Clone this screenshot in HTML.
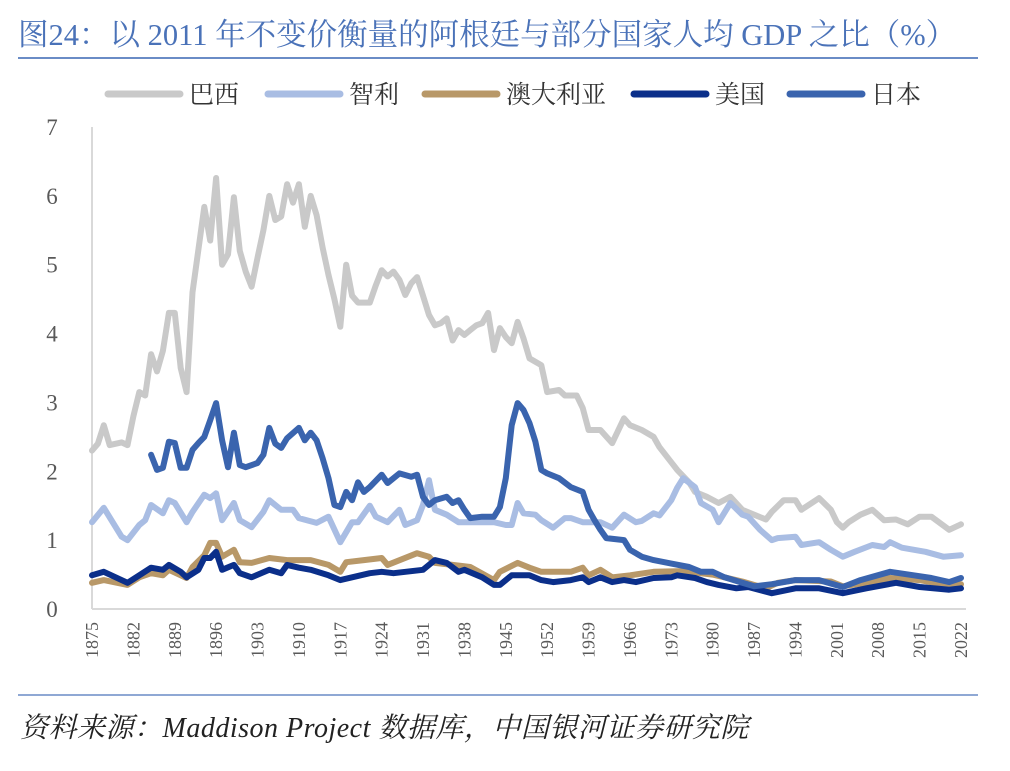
<!DOCTYPE html>
<html><head><meta charset="utf-8"><style>
body{margin:0;background:#fff;width:1010px;height:771px;overflow:hidden;font-family:"Liberation Serif","Noto Serif CJK SC",serif}
#title{position:absolute;left:18px;top:10px;font-size:30.5px;color:#4a72b8;white-space:nowrap}
#src{position:absolute;left:20px;top:706px;font-size:28px;font-style:italic;color:#222;white-space:nowrap;letter-spacing:0.5px}
</style></head><body>
<div id="title">图24：以 2011 年不变价衡量的阿根廷与部分国家人均 GDP 之比（%）</div>
<svg id="chart" width="1010" height="771" style="position:absolute;left:0;top:0"></svg>
<div id="src">资料来源：Maddison Project 数据库，中国银河证券研究院</div>
<script>
const brazilYears=[1875,1876,1877,1878,1880,1881,1882,1883,1884,1885,1886,1887,1888,1889,1890,1891,1892,1894,1895,1896,1897,1898,1899,1900,1901,1902,1903,1904,1905,1906,1907,1908,1909,1910,1911,1912,1913,1914,1915,1916,1917,1918,1919,1920,1921,1922,1923,1924,1925,1926,1927,1928,1929,1930,1931,1932,1933,1934,1935,1936,1937,1938,1939,1940,1941,1942,1943,1944,1945,1946,1947,1948,1949,1951,1952,1954,1955,1957,1958,1959,1961,1963,1965,1966,1968,1970,1971,1973,1974,1976,1977,1979,1981,1983,1985,1987,1989,1990,1992,1994,1995,1998,2000,2001,2002,2003,2005,2007,2009,2011,2013,2015,2017,2020,2022];
const brazilValues=[2.3,2.4,2.67,2.38,2.42,2.38,2.8,3.15,3.1,3.7,3.45,3.75,4.3,4.3,3.5,3.15,4.6,5.84,5.35,6.26,5.0,5.15,5.98,5.2,4.9,4.68,5.1,5.5,6.0,5.65,5.7,6.17,5.9,6.17,5.55,6.0,5.72,5.25,4.85,4.5,4.1,5.0,4.55,4.45,4.45,4.45,4.7,4.92,4.83,4.9,4.78,4.56,4.73,4.82,4.55,4.27,4.12,4.15,4.22,3.9,4.05,3.98,4.05,4.12,4.15,4.3,3.76,4.08,3.95,3.86,4.17,3.93,3.64,3.54,3.15,3.18,3.1,3.1,2.92,2.6,2.6,2.41,2.77,2.67,2.6,2.5,2.35,2.13,2.02,1.84,1.7,1.63,1.54,1.63,1.44,1.37,1.3,1.41,1.58,1.58,1.44,1.61,1.44,1.26,1.18,1.26,1.37,1.44,1.29,1.3,1.23,1.34,1.34,1.15,1.23];
const chileYears=[1875,1877,1880,1881,1883,1884,1885,1887,1888,1889,1891,1892,1894,1895,1896,1897,1899,1900,1902,1904,1905,1907,1909,1910,1913,1915,1917,1919,1920,1922,1923,1925,1927,1928,1930,1931,1932,1933,1935,1937,1940,1943,1945,1946,1947,1948,1950,1951,1953,1955,1956,1958,1961,1963,1965,1967,1968,1970,1971,1973,1974,1975,1977,1978,1980,1981,1983,1985,1986,1988,1990,1991,1994,1995,1998,2000,2002,2004,2007,2009,2010,2012,2016,2019,2022];
const chileValues=[1.26,1.47,1.05,1.0,1.22,1.29,1.51,1.39,1.58,1.54,1.26,1.41,1.66,1.61,1.68,1.29,1.54,1.29,1.19,1.41,1.58,1.44,1.44,1.32,1.25,1.34,0.97,1.26,1.26,1.5,1.34,1.26,1.44,1.22,1.29,1.51,1.87,1.44,1.37,1.26,1.26,1.26,1.22,1.22,1.54,1.39,1.37,1.29,1.18,1.32,1.32,1.26,1.26,1.18,1.37,1.26,1.28,1.39,1.36,1.58,1.76,1.9,1.77,1.54,1.44,1.26,1.54,1.37,1.34,1.15,1.0,1.03,1.05,0.93,0.97,0.86,0.76,0.83,0.93,0.9,0.97,0.89,0.83,0.76,0.78];
const ausYears=[1875,1877,1881,1883,1885,1887,1888,1891,1892,1894,1895,1896,1897,1899,1900,1902,1905,1908,1912,1915,1917,1918,1921,1924,1925,1930,1932,1933,1936,1939,1943,1944,1947,1949,1951,1956,1958,1959,1961,1963,1966,1970,1975,1980,1985,1989,1991,1994,2000,2002,2006,2010,2015,2020,2022];
const ausValues=[0.38,0.42,0.35,0.46,0.52,0.49,0.57,0.45,0.61,0.78,0.96,0.96,0.76,0.86,0.68,0.67,0.74,0.71,0.71,0.64,0.54,0.68,0.71,0.74,0.64,0.81,0.76,0.67,0.64,0.61,0.42,0.54,0.67,0.6,0.54,0.54,0.6,0.49,0.57,0.46,0.49,0.54,0.55,0.5,0.4,0.3,0.38,0.42,0.4,0.33,0.38,0.45,0.42,0.34,0.36];
const usaYears=[1875,1877,1881,1883,1885,1887,1888,1890,1891,1893,1894,1895,1896,1897,1899,1900,1902,1905,1907,1908,1910,1912,1915,1917,1919,1922,1924,1926,1931,1933,1935,1937,1938,1941,1943,1944,1946,1949,1951,1953,1956,1958,1959,1961,1963,1965,1967,1970,1973,1974,1977,1979,1981,1984,1986,1990,1994,1998,2002,2006,2011,2015,2020,2022];
const usaValues=[0.49,0.54,0.38,0.49,0.6,0.57,0.64,0.54,0.46,0.57,0.74,0.74,0.83,0.57,0.64,0.52,0.46,0.57,0.52,0.64,0.6,0.57,0.49,0.42,0.46,0.52,0.54,0.52,0.57,0.71,0.67,0.54,0.57,0.46,0.35,0.35,0.49,0.49,0.42,0.39,0.42,0.46,0.39,0.46,0.39,0.42,0.39,0.45,0.46,0.49,0.45,0.39,0.35,0.3,0.32,0.23,0.3,0.3,0.23,0.3,0.38,0.32,0.28,0.3];
const japanYears=[1885,1886,1887,1888,1889,1890,1891,1892,1893,1894,1895,1896,1897,1898,1899,1900,1901,1903,1904,1905,1906,1907,1908,1910,1911,1912,1913,1914,1915,1916,1917,1918,1919,1920,1921,1922,1924,1925,1927,1929,1930,1931,1932,1933,1935,1936,1937,1938,1939,1941,1943,1944,1945,1946,1947,1948,1949,1950,1951,1952,1954,1956,1958,1959,1960,1961,1962,1965,1966,1968,1970,1973,1976,1978,1980,1982,1985,1987,1990,1994,1998,2002,2005,2010,2014,2017,2020,2022];
const japanValues=[2.24,2.02,2.05,2.43,2.41,2.05,2.05,2.31,2.41,2.5,2.74,2.99,2.45,2.06,2.56,2.09,2.06,2.12,2.24,2.63,2.4,2.34,2.48,2.63,2.45,2.56,2.45,2.19,1.9,1.51,1.48,1.7,1.58,1.84,1.7,1.77,1.95,1.83,1.97,1.92,1.95,1.63,1.51,1.58,1.63,1.54,1.58,1.44,1.32,1.34,1.34,1.48,1.9,2.67,2.99,2.89,2.7,2.43,2.02,1.97,1.9,1.77,1.7,1.44,1.29,1.15,1.03,1.0,0.86,0.76,0.71,0.66,0.61,0.54,0.54,0.46,0.38,0.33,0.36,0.42,0.42,0.32,0.42,0.54,0.49,0.45,0.39,0.45];
const yTicks=[0,1,2,3,4,5,6,7];
const xTickYears=[1875,1882,1889,1896,1903,1910,1917,1924,1931,1938,1945,1952,1959,1966,1973,1980,1987,1994,2001,2008,2015,2022];
const seriesNames=["巴西","智利","澳大利亚","美国","日本"];

const NS="http://www.w3.org/2000/svg";
const svg=document.getElementById('chart');
const X0=92,X1=961,Y0=609,Y1=127;
const xs=y=>X0+(y-1875)/(2022-1875)*(X1-X0);
const ys=v=>Y0-v/7*(Y0-Y1);
function mk(t,a){const e=document.createElementNS(NS,t);for(const k in a)e.setAttribute(k,a[k]);svg.appendChild(e);return e;}
let r=mk('line',{x1:18,y1:58,x2:978,y2:58,stroke:'#6a8cc6','stroke-width':2});


r=mk('line',{x1:18,y1:695,x2:978,y2:695,stroke:'#6a8cc6','stroke-width':1.5});


let ax=mk('line',{x1:X0,y1:Y1,x2:X0,y2:Y0,stroke:'#d9d9d9','stroke-width':2});


ax=mk('line',{x1:X0,y1:Y0,x2:X1+5,y2:Y0,stroke:'#d9d9d9','stroke-width':2});


yTicks.forEach(v=>{const t=mk('text',{x:52,y:ys(v)+8,'text-anchor':'middle','font-size':23,fill:'#595959','font-family':'Liberation Serif, serif'});t.textContent=v;

});
xTickYears.forEach(yr=>{const x=xs(yr);const t=mk('text',{x:0,y:0,'text-anchor':'end','font-size':18,fill:'#595959','font-family':'Liberation Serif, serif',transform:`translate(${x+6},622) rotate(-90)`});t.textContent=yr;

});
const series=[[brazilYears,brazilValues,'#c9c9c9','brazil-line'],[chileYears,chileValues,'#a9bde3','chile-line'],[ausYears,ausValues,'#b89868','australia-line'],[usaYears,usaValues,'#0b2f8a','usa-line'],[japanYears,japanValues,'#3a64ae','japan-line']];
series.forEach(s=>{const d=s[0].map((y,i)=>(i?'L':'M')+xs(y).toFixed(1)+','+ys(s[1][i]).toFixed(1)).join('');
const p=mk('path',{d:d,fill:'none',stroke:s[2],'stroke-width':6,'stroke-linejoin':'round','stroke-linecap':'round'});

});
const legX=[108,268,425,634,790];
seriesNames.forEach((n,i)=>{const g=document.createElementNS(NS,'g');svg.appendChild(g);


const l=document.createElementNS(NS,'line');l.setAttribute('x1',legX[i]);l.setAttribute('x2',legX[i]+72);l.setAttribute('y1',94);l.setAttribute('y2',94);l.setAttribute('stroke',series[i][2]);l.setAttribute('stroke-width',7);l.setAttribute('stroke-linecap','round');g.appendChild(l);
const t=document.createElementNS(NS,'text');t.setAttribute('x',legX[i]+81);t.setAttribute('y',103);t.setAttribute('font-size',25);t.setAttribute('fill','#333');t.setAttribute('font-family','Liberation Serif, Noto Serif CJK SC, serif');t.textContent=n;g.appendChild(t);});
</script>
</body></html>
